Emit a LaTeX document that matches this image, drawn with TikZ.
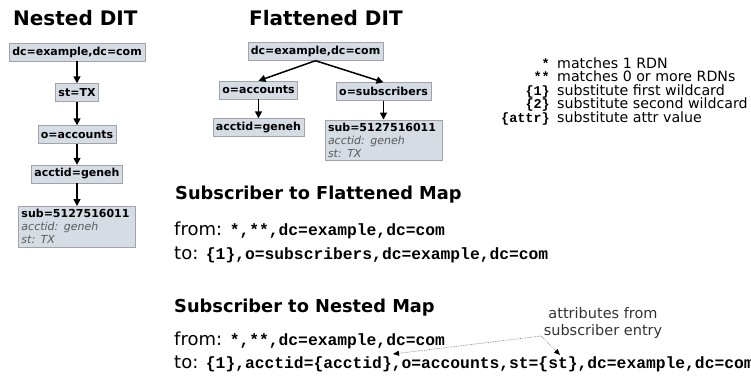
\documentclass[tikz,border=0pt]{standalone}
\usepackage{fontspec}
\setmainfont{DejaVu Sans}
\newfontfamily\codefont{Liberation Mono}
\usetikzlibrary{arrows.meta}
\definecolor{dit-fill}{RGB}{213,220,228}
\definecolor{dit-line}{RGB}{160,164,170}
\definecolor{attr-gray}{RGB}{90,90,90}
\definecolor{hint-gray}{RGB}{125,125,125}
\newcommand{\sz}[2]{\fontsize{#1bp}{#2bp}\selectfont}
\newcommand{\code}[1]{{\codefont\bfseries\sz{16.3}{20}#1}}
\newcommand{\attrline}[1]{{\mdseries\itshape\color{attr-gray}#1}}
\tikzset{
  ditbox/.style={draw=dit-line, fill=dit-fill, font=\sz{11}{13}\bfseries, inner xsep=3bp, inner ysep=2bp, minimum height=18bp},
  subbox/.style={ditbox, text width=111bp, align=left, inner ysep=3bp},
  tree/.style={-{Triangle[length=7bp,width=7bp]}, line width=1.5bp},
  hint/.style={densely dotted, draw=hint-gray, line width=0.7bp, -{Triangle[length=6bp,width=5bp,black]}},
  heading/.style={anchor=base west, font=\sz{17.8}{21}\bfseries, inner sep=0},
  maprule/.style={anchor=base west, font=\sz{18}{22}, inner sep=0},
  legsym/.style={anchor=base east, font=\codefont\bfseries\sz{13.5}{16}, inner sep=0},
  legtxt/.style={anchor=base west, font=\sz{14.2}{17}, inner sep=0},
}

\begin{document}
\begin{tikzpicture}[x=1bp,y=-1bp]
\useasboundingbox (0,0) rectangle (751,377);

% nested tree
\node[heading, font=\sz{20}{24}\bfseries] (nested_title) at (13,25) {Nested DIT};
\node[ditbox] (n_root) at (77,52) {dc=example,dc=com};
\node[ditbox] (n_st) at (77,92.5) {st=TX};
\node[ditbox] (n_org) at (77,134.5) {o=accounts};
\node[ditbox] (n_acct) at (77,174) {acctid=geneh};
\node[subbox] (n_sub) at (77,226.5) {sub=5127516011\\\attrline{acctid: geneh}\\\attrline{st: TX}};

\draw[tree] (n_root) -- (n_st);
\draw[tree] (n_st) -- (n_org);
\draw[tree] (n_org) -- (n_acct);
\draw[tree] (n_acct) -- (n_sub);

% flattened tree
\node[heading, font=\sz{20}{24}\bfseries] (flat_title) at (249,25) {Flattened DIT};
\node[ditbox] (f_root) at (315.5,51.5) {dc=example,dc=com};
\node[ditbox] (f_org) at (258.5,90) {o=accounts};
\node[ditbox] (f_subs) at (383.5,91.5) {o=subscribers};
\node[ditbox] (f_acct) at (258.5,127.5) {acctid=geneh};
\node[subbox] (f_sub) at (383.5,140) {sub=5127516011\\\attrline{acctid: geneh}\\\attrline{st: TX}};

\draw[tree] (f_root.south) -- (f_org.north);
\draw[tree] (f_root.south) -- (f_subs.north);
\draw[tree] (f_org) -- (f_acct);
\draw[tree] (f_subs) -- (f_sub);

% wildcard legend
\node[legsym] (sym_one) at (550,68) {*};
\node[legtxt] (txt_one) at (557,68) {matches 1 RDN};
\node[legsym] (sym_many) at (550,81.5) {**};
\node[legtxt] (txt_many) at (557,81.5) {matches 0 or more RDNs};
\node[legsym] (sym_first) at (550,95) {\{1\}};
\node[legtxt] (txt_first) at (557,95) {substitute first wildcard};
\node[legsym] (sym_second) at (550,108.5) {\{2\}};
\node[legtxt] (txt_second) at (557,108.5) {substitute second wildcard};
\node[legsym] (sym_attr) at (550,122) {\{attr\}};
\node[legtxt] (txt_attr) at (557,122) {substitute attr value};

% mapping rules
\node[heading] (flat_map) at (175,199) {Subscriber to Flattened Map};
\node[maprule] (flat_from) at (174,235) {from: \code{*,**,dc=example,dc=com}};
\node[maprule] (flat_to) at (174,259) {to: \code{\{1\},o=subscribers,dc=example,dc=com}};

\node[heading] (nest_map) at (174,312) {Subscriber to Nested Map};
\node[maprule] (nest_from) at (174,345) {from: \code{*,**,dc=example,dc=com}};
\node[maprule] (nest_to) at (174,368) {to: \code{\{1\},acctid=\{acctid\},o=accounts,st=\{st\},dc=example,dc=com}};

\node[font=\sz{14.5}{17}, align=center, inner sep=0, text=black!80] (ann) at (603,323) {attributes from\\subscriber entry};
\coordinate (ann_tail) at (541,336);
\coordinate (acctid_mark) at (393,354);
\coordinate (st_mark) at (560,355);
\draw[hint] (ann_tail) -- (acctid_mark);
\draw[hint] (ann_tail) -- (st_mark);
\end{tikzpicture}
\end{document}
